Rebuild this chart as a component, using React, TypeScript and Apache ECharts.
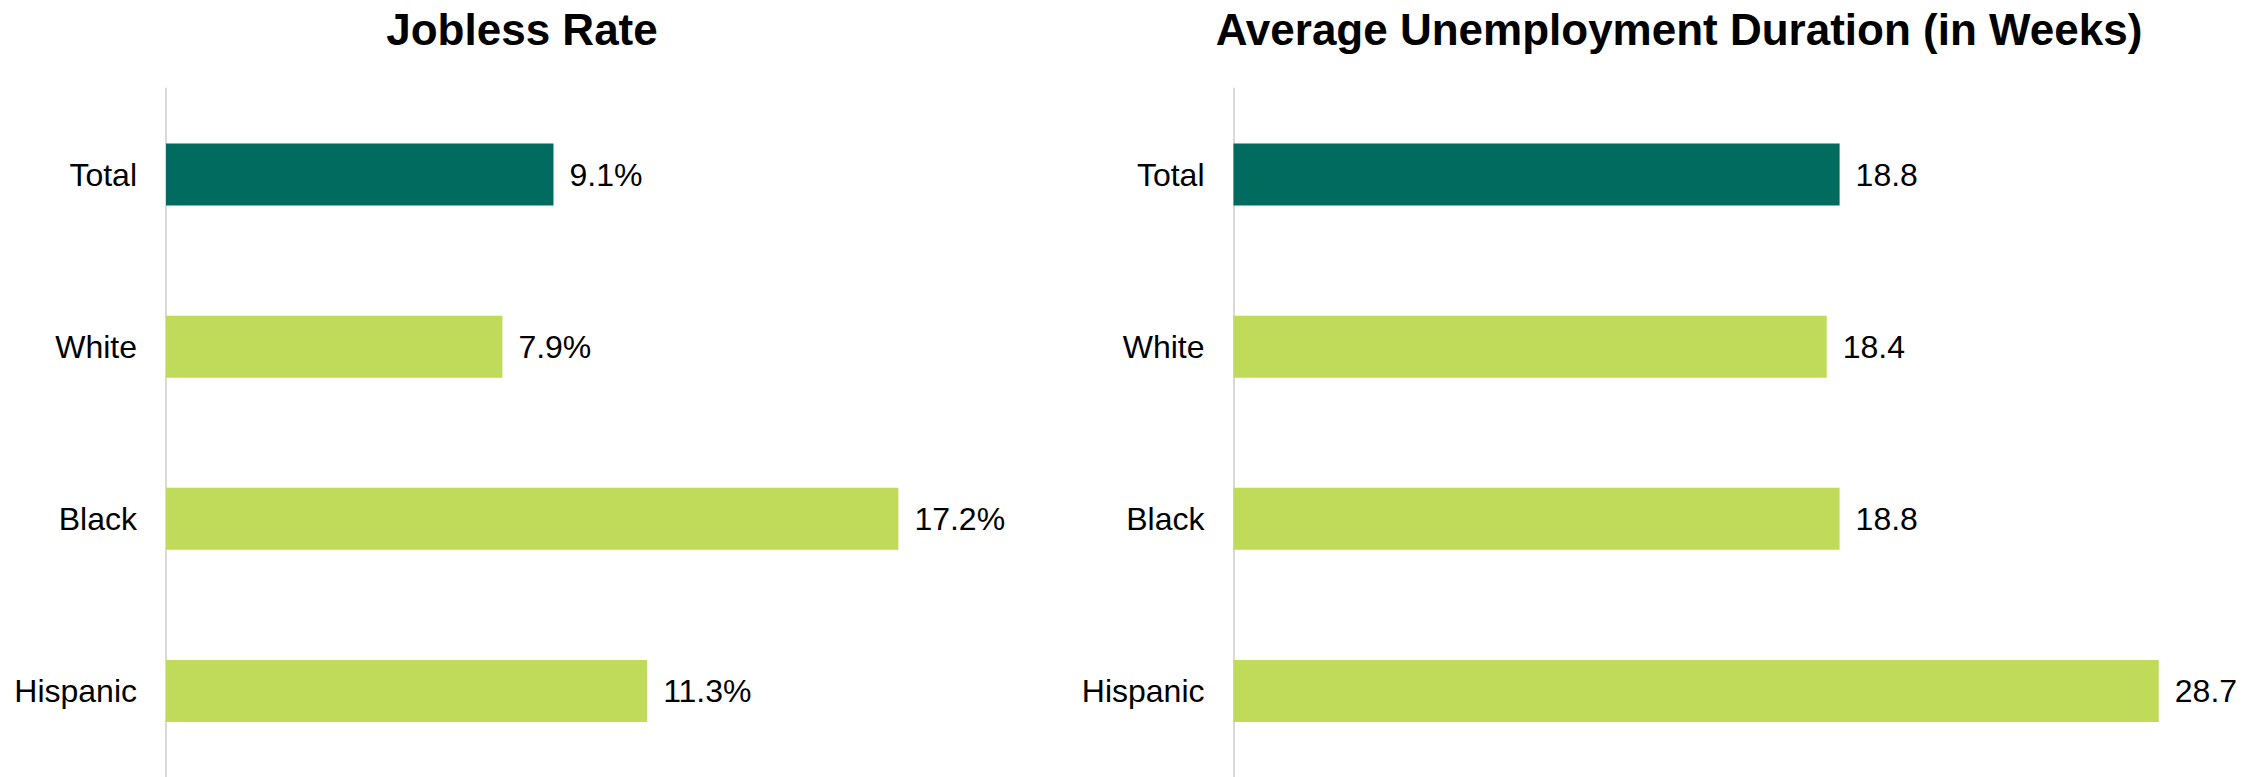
import React, { useEffect, useRef } from "react";
import * as echarts from "echarts";

const categories = ["Total", "White", "Black", "Hispanic"];
const joblessRate = [9.1, 7.9, 17.2, 11.3];
const durationWeeks = [18.8, 18.4, 18.8, 28.7];
const titles = ["Jobless Rate", "Average Unemployment Duration (in Weeks)"];

const TEAL = "#006B5E";
const GREEN = "#C0DA5A";
const FONT = "Liberation Sans, Arial, sans-serif";

function colored(values: number[]) {
  return values.map((v, i) => ({ value: v, itemStyle: { color: i === 0 ? TEAL : GREEN } }));
}

export default function App() {
  const ref = useRef<HTMLDivElement>(null);
  useEffect(() => {
    if (!ref.current) return;
    const chart = echarts.init(ref.current, undefined, { renderer: "svg" });
    const yAxisBase = (gridIndex: number) => ({
      type: "category" as const,
      gridIndex,
      inverse: true,
      data: categories,
      axisLine: { show: true, lineStyle: { color: "#d9d9d9", width: 2 } },
      axisTick: { show: false },
      axisLabel: { fontSize: 32, color: "#000", margin: 29, fontFamily: FONT },
    });
    const label = (fmt: string) => ({
      show: true,
      position: "right" as const,
      distance: 16,
      fontSize: 32,
      color: "#000",
      fontFamily: FONT,
      formatter: fmt,
    });
    chart.setOption({
      animation: false,
      backgroundColor: "#fff",
      grid: [
        { left: 166, width: 851.6, top: 88.5, height: 693 },
        { left: 1233.5, width: 967.2, top: 88.5, height: 693 },
      ],
      xAxis: [
        { type: "value", gridIndex: 0, min: 0, max: 20, show: false },
        { type: "value", gridIndex: 1, min: 0, max: 30, show: false },
      ],
      yAxis: [yAxisBase(0), yAxisBase(1)],
      graphic: [
        {
          type: "text",
          x: 522,
          y: 29,
          style: {
            text: titles[0],
            fontSize: 44,
            fontWeight: "bold",
            fill: "#000",
            fontFamily: FONT,
            textAlign: "center",
            textVerticalAlign: "middle",
          },
        },
        {
          type: "text",
          x: 1679,
          y: 29,
          style: {
            text: titles[1],
            fontSize: 44,
            fontWeight: "bold",
            fill: "#000",
            fontFamily: FONT,
            textAlign: "center",
            textVerticalAlign: "middle",
          },
        },
      ],
      series: [
        {
          type: "bar",
          xAxisIndex: 0,
          yAxisIndex: 0,
          barWidth: "36%",
          data: colored(joblessRate),
          label: label("{c}%"),
        },
        {
          type: "bar",
          xAxisIndex: 1,
          yAxisIndex: 1,
          barWidth: "36%",
          data: colored(durationWeeks),
          label: label("{c}"),
        },
      ],
    });
    return () => chart.dispose();
  }, []);
  return (
    <div
      ref={ref}
      style={{ position: "fixed", left: 0, top: 0, width: 2264, height: 777, background: "#fff" }}
    />
  );
}
